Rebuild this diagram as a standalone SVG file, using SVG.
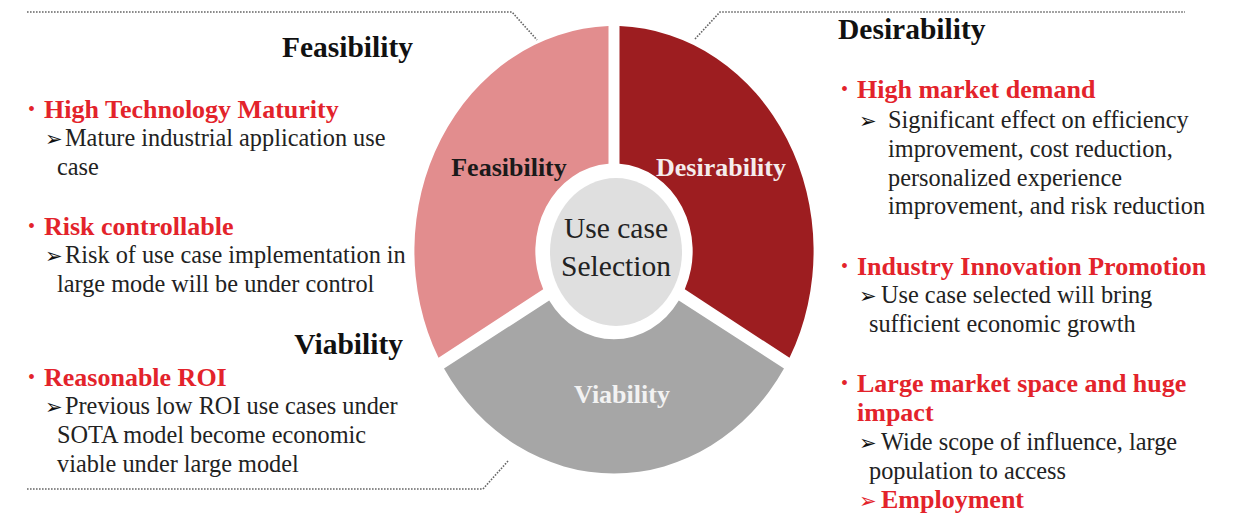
<svg xmlns="http://www.w3.org/2000/svg" width="1245" height="514" viewBox="0 0 1245 514">
<style>
text{font-family:"Liberation Serif","Times New Roman",serif;}
.title{font-size:29.5px;font-weight:bold;fill:#111;}
.head{font-size:26px;font-weight:bold;fill:#E3232B;}
.body{font-size:24.3px;fill:#222;}
.bul{font-size:20px;fill:#E3232B;}
.arr{font-family:"DejaVu Sans",sans-serif;font-size:21px;fill:#111;}
.arrR{font-family:"DejaVu Sans",sans-serif;font-size:21px;fill:#E3232B;}
.seg{font-size:26px;font-weight:bold;text-anchor:middle;}
.ctr{font-size:29.5px;fill:#222;text-anchor:middle;}
.dot{fill:none;stroke:#666;stroke-width:1.6;stroke-dasharray:1.6 1.4;}
</style>
<rect width="1245" height="514" fill="#fff"/>
<g id="connectors">
<polyline class="dot" points="27,12 512,12 537,40"/>
<polyline class="dot" points="695,39 720,12 1185,12"/>
<polyline class="dot" points="27,489 483,489 508,461"/>
</g>
<g id="node-feasibility">
<path transform="translate(614,251) scale(1,1.12)" fill="#E28D8E" d="M-175.5,95.4 A201,201 0 0 1 -5.5,-200.9 L-5.5,-77.8 A78,78 0 0 0 -70.8,34.2 Z"/>
<text class="seg" x="509" y="176" fill="#1a1a1a">Feasibility</text>
</g>
<g id="node-desirability">
<path transform="translate(614,251) scale(1,1.12)" fill="#9D1D20" d="M5.5,-200.9 A201,201 0 0 1 175.5,95.4 L70.8,34.2 A78,78 0 0 0 5.5,-77.8 Z"/>
<text class="seg" x="721" y="176" fill="#F5ECEC">Desirability</text>
</g>
<g id="node-viability">
<path transform="translate(614,251) scale(1,1.12)" fill="#A6A6A6" d="M170.0,104.9 A201,201 0 0 1 -170.0,104.9 L-64.8,44.2 A78,78 0 0 0 64.8,44.2 Z"/>
<text class="seg" x="622" y="403" fill="#F2F2F2">Viability</text>
</g>
<g id="node-center">
<ellipse cx="616" cy="252" rx="66" ry="74" fill="#DFDFDF"/>
<text class="ctr" x="616" y="238">Use case</text>
<text class="ctr" x="616" y="276">Selection</text>
</g>
<g id="panel-feasibility">
<text class="title" x="413" y="57" text-anchor="end">Feasibility</text>
<text class="bul" x="28" y="116">•</text>
<text class="head" x="44" y="118">High Technology Maturity</text>
<text x="45" y="146"><tspan class="arr">➢</tspan><tspan class="body" x="65">Mature industrial application use</tspan></text>
<text class="body" x="57" y="175">case</text>
<text class="bul" x="28" y="233">•</text>
<text class="head" x="44" y="235">Risk controllable</text>
<text x="45" y="263"><tspan class="arr">➢</tspan><tspan class="body" x="65">Risk of use case implementation in</tspan></text>
<text class="body" x="57" y="292">large mode will be under control</text>
</g>
<g id="panel-viability">
<text class="title" x="403" y="354" text-anchor="end">Viability</text>
<text class="bul" x="28" y="384">•</text>
<text class="head" x="44" y="386">Reasonable ROI</text>
<text x="45" y="414"><tspan class="arr">➢</tspan><tspan class="body" x="65">Previous low ROI use cases under</tspan></text>
<text class="body" x="57" y="443">SOTA model become economic</text>
<text class="body" x="57" y="472">viable under large model</text>
</g>
<g id="panel-desirability">
<text class="title" x="838" y="39">Desirability</text>
<text class="bul" x="841" y="96">•</text>
<text class="head" x="857" y="98">High market demand</text>
<text x="859" y="128"><tspan class="arr">➢</tspan><tspan class="body" x="888">Significant effect on efficiency</tspan></text>
<text class="body" x="888" y="157">improvement, cost reduction,</text>
<text class="body" x="888" y="186">personalized experience</text>
<text class="body" x="888" y="214">improvement, and risk reduction</text>
<text class="bul" x="841" y="273">•</text>
<text class="head" x="857" y="275">Industry Innovation Promotion</text>
<text x="859" y="303"><tspan class="arr">➢</tspan><tspan class="body" x="881">Use case selected will bring</tspan></text>
<text class="body" x="869" y="332">sufficient economic growth</text>
<text class="bul" x="841" y="390">•</text>
<text class="head" x="857" y="392">Large market space and huge</text>
<text class="head" x="857" y="421">impact</text>
<text x="859" y="450"><tspan class="arr">➢</tspan><tspan class="body" x="881">Wide scope of influence, large</tspan></text>
<text class="body" x="869" y="479">population to access</text>
<text x="859" y="508"><tspan class="arrR">➢</tspan><tspan class="head" x="881">Employment</tspan></text>
</g>
</svg>
